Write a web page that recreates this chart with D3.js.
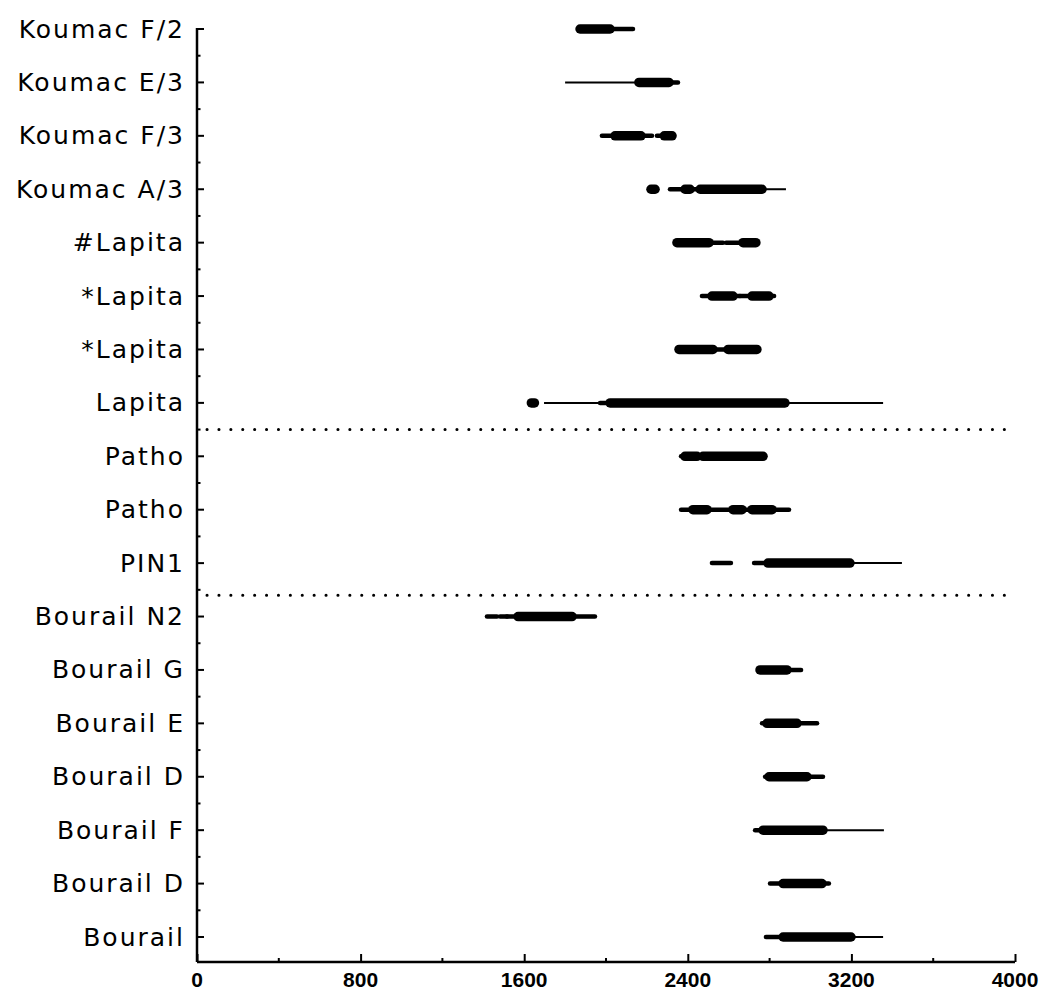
<!DOCTYPE html>
<html>
<head>
<meta charset="utf-8">
<script src="https://cdn.jsdelivr.net/npm/d3@7"></script>
<style>
  body { margin: 0; background: #fff; }
  svg { display: block; }
  .xlab { font-family: "Liberation Sans", Arial, sans-serif; font-weight: bold; font-size: 21px; }
  .ylab { font-family: "DejaVu Sans", sans-serif; font-size: 25px; letter-spacing: 2px; }
</style>
</head>
<body>
<script>
// Sample labels, top to bottom
const labels = [
  "Koumac F/2", "Koumac E/3", "Koumac F/3", "Koumac A/3",
  "#Lapita", "*Lapita", "*Lapita", "Lapita",
  "Patho", "Patho", "PIN1",
  "Bourail N2", "Bourail G", "Bourail E", "Bourail D",
  "Bourail F", "Bourail D", "Bourail"
];

// Calibrated age ranges per sample: [from, to, level]  (level 1 = low prob, 3 = high prob)
const ranges = [
  [[1873, 2020, 3], [2020, 2132, 2]],
  [[1800, 2161, 1], [2161, 2308, 3], [2308, 2352, 2]],
  [[1980, 2044, 2], [2044, 2171, 3], [2171, 2225, 2], [2249, 2290, 2], [2285, 2323, 3]],
  [[2220, 2240, 3], [2313, 2386, 2], [2386, 2411, 3], [2411, 2460, 2], [2460, 2763, 3], [2763, 2880, 1]],
  [[2347, 2504, 3], [2504, 2572, 2], [2587, 2670, 2], [2670, 2733, 3]],
  [[2469, 2518, 2], [2518, 2621, 3], [2621, 2655, 2], [2655, 2714, 2], [2714, 2797, 3], [2797, 2822, 2]],
  [[2357, 2523, 3], [2523, 2597, 2], [2597, 2738, 3]],
  [[1635, 1650, 3], [1697, 1971, 1], [1971, 2020, 2], [2020, 2875, 3], [2875, 3355, 1]],
  [[2367, 2386, 2], [2386, 2445, 3], [2445, 2474, 2], [2474, 2768, 3]],
  [[2367, 2425, 2], [2425, 2494, 3], [2494, 2621, 2], [2621, 2665, 3], [2665, 2714, 2], [2714, 2812, 3], [2812, 2895, 2]],
  [[2518, 2611, 2], [2724, 2792, 2], [2792, 3193, 3], [3193, 3447, 1]],
  [[1418, 1467, 2], [1482, 1516, 2], [1516, 1570, 2], [1570, 1834, 3], [1834, 1946, 2]],
  [[2753, 2885, 3], [2885, 2954, 2]],
  [[2763, 2787, 2], [2787, 2934, 3], [2934, 3032, 2]],
  [[2778, 2797, 2], [2797, 2983, 3], [2983, 3061, 2]],
  [[2729, 2768, 2], [2768, 3061, 3], [3061, 3359, 1]],
  [[2802, 2866, 2], [2866, 3056, 3], [3056, 3090, 2]],
  [[2782, 2866, 2], [2866, 3198, 3], [3198, 3355, 1]]
];

// Group separators, in row units
const separators = [7.5, 10.6];

const xTicks = [0, 800, 1600, 2400, 3200, 4000];
const xMinorTicks = [400, 1200, 2000, 2800, 3600];

const width = 1054, height = 992;

const svg = d3.select("body").append("svg")
  .attr("width", width)
  .attr("height", height);

const x = d3.scaleLinear().domain([0, 4000]).range([197, 1015]);
const y = d3.scaleLinear().domain([0, labels.length - 1]).range([29, 937]);
const thick = d3.scaleOrdinal().domain([1, 2, 3]).range([2, 4.5, 9.5]);

const axisY = 962;

// x axis (labels drawn separately so the font sticks)
const xAxis = d3.axisBottom(x).tickValues(xTicks).tickSize(-8).tickFormat("");
svg.append("g")
  .attr("transform", `translate(0,${axisY})`)
  .call(xAxis)
  .call(g => g.select(".domain").attr("stroke-width", 2.5).attr("d", `M${x(0)},0H${x(4000)}`))
  .call(g => g.selectAll(".tick line").attr("stroke-width", 2));

svg.append("g").selectAll("text")
  .data(xTicks)
  .join("text")
  .attr("class", "xlab")
  .attr("x", d => x(d))
  .attr("y", axisY + 25)
  .attr("text-anchor", "middle")
  .attr("fill", "#000")
  .text(d => d);

svg.append("g").selectAll("line")
  .data(xMinorTicks)
  .join("line")
  .attr("x1", d => x(d)).attr("x2", d => x(d))
  .attr("y1", axisY).attr("y2", axisY - 4)
  .attr("stroke", "#000").attr("stroke-width", 2);

// y axis
const yAxisX = x(0);
svg.append("line")
  .attr("x1", yAxisX).attr("x2", yAxisX)
  .attr("y1", y(0) - 1).attr("y2", axisY)
  .attr("stroke", "#000").attr("stroke-width", 2.5);

const rowIdx = d3.range(labels.length);
svg.append("g").selectAll("line")
  .data(rowIdx)
  .join("line")
  .attr("x1", yAxisX).attr("x2", yAxisX + 7)
  .attr("y1", d => y(d)).attr("y2", d => y(d))
  .attr("stroke", "#000").attr("stroke-width", 2);

svg.append("g").selectAll("line")
  .data(rowIdx.slice(0, -1))
  .join("line")
  .attr("x1", yAxisX).attr("x2", yAxisX + 3.5)
  .attr("y1", d => y(d + 0.5)).attr("y2", d => y(d + 0.5))
  .attr("stroke", "#000").attr("stroke-width", 2);

// row labels
svg.append("g").selectAll("text")
  .data(labels)
  .join("text")
  .attr("class", "ylab")
  .attr("x", 185)
  .attr("y", (d, i) => y(i))
  .attr("dy", "0.34em")
  .attr("text-anchor", "end")
  .attr("fill", "#000")
  .text(d => d);

// dotted group separators
svg.append("g").selectAll("line")
  .data(separators)
  .join("line")
  .attr("x1", yAxisX + 10).attr("x2", x(4000))
  .attr("y1", d => y(d)).attr("y2", d => y(d))
  .attr("stroke", "#000")
  .attr("stroke-width", 3)
  .attr("stroke-linecap", "round")
  .attr("stroke-dasharray", "0.1,11.8");

// age ranges
const segs = ranges.flatMap((row, i) => row.map(s => ({ row: i, from: s[0], to: s[1], level: s[2] })));
svg.append("g").selectAll("line")
  .data(segs)
  .join("line")
  .attr("x1", d => x(d.from))
  .attr("x2", d => x(d.to))
  .attr("y1", d => y(d.row))
  .attr("y2", d => y(d.row))
  .attr("stroke", "#000")
  .attr("stroke-width", d => thick(d.level))
  .attr("stroke-linecap", d => d.level === 1 ? "butt" : "round");
</script>
</body>
</html>
